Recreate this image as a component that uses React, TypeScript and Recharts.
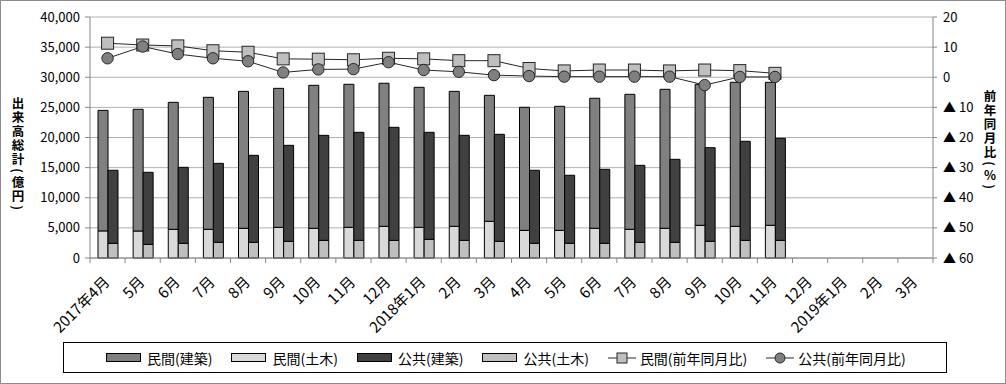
import { ComposedChart, Bar, Line, XAxis, YAxis, CartesianGrid } from 'recharts';

// 月ラベル（2017年4月〜2019年3月）
const months = [
  '2017年4月', '5月', '6月', '7月', '8月', '9月', '10月', '11月', '12月',
  '2018年1月', '2月', '3月', '4月', '5月', '6月', '7月', '8月', '9月', '10月', '11月', '12月',
  '2019年1月', '2月', '3月',
];

// 出来高（億円）
const minKenchiku = [20000, 20200, 21080, 21910, 22730, 23070, 23730, 23740, 23740, 23240, 22400, 20910, 20420, 20590, 21580, 22410, 23070, 23400, 23900, 23730];
const minDoboku = [4500, 4480, 4760, 4760, 4930, 5090, 4930, 5090, 5260, 5090, 5260, 6090, 4590, 4590, 4930, 4760, 4930, 5430, 5260, 5430];
const pubKenchiku = [12120, 11950, 12610, 13110, 14440, 15930, 17430, 17930, 18760, 17760, 17430, 17760, 12120, 11290, 12280, 12780, 13780, 15540, 16440, 16940];
const pubDoboku = [2440, 2270, 2440, 2600, 2600, 2770, 2930, 2930, 2930, 3100, 2930, 2770, 2440, 2440, 2440, 2600, 2600, 2770, 2930, 2930];

// 前年同月比（%）
const minYoY = [11.3, 10.7, 10.4, 8.8, 8.3, 6.1, 6.0, 5.8, 6.3, 6.1, 5.5, 5.5, 2.9, 2.1, 2.4, 2.4, 2.1, 2.4, 2.2, 1.3];
const pubYoY = [6.3, 10.2, 7.7, 6.3, 5.3, 1.6, 2.6, 2.7, 5.0, 2.4, 1.8, 0.7, 0.4, 0.2, 0.2, 0.2, 0.2, -2.6, 0.1, 0.1];

const leftTicks = [0, 5000, 10000, 15000, 20000, 25000, 30000, 35000, 40000];
const rightTicks = [-60, -50, -40, -30, -20, -10, 0, 10, 20];

const FONT = '"Noto Sans CJK JP", "Noto Sans", sans-serif';
const W = 1006;
const H = 384;
const PLOT_LEFT = 90;
const PLOT_RIGHT = 933;
const BAND = (PLOT_RIGHT - PLOT_LEFT) / months.length;

const C_MIN_K = '#808080';
const C_MIN_D = '#d9d9d9';
const C_PUB_K = '#404040';
const C_PUB_D = '#bfbfbf';
const AXIS = '#868686';

const data = months.map((m, i) => ({
  label: m,
  minKenchiku: minKenchiku[i] ?? null,
  minDoboku: minDoboku[i] ?? null,
  pubKenchiku: pubKenchiku[i] ?? null,
  pubDoboku: pubDoboku[i] ?? null,
  minYoY: minYoY[i] ?? null,
  pubYoY: pubYoY[i] ?? null,
}));

function MonthTick(props: any) {
  const { x, y, payload, index } = props;
  const h = BAND / 2;
  const tx = x + 3;
  const ty = y + 25;
  return (
    <g>
      <line x1={x - h} x2={x - h} y1={y} y2={y + 5} stroke={AXIS} />
      {index === months.length - 1 && <line x1={x + h} x2={x + h} y1={y} y2={y + 5} stroke={AXIS} />}
      <text x={tx} y={ty} textAnchor="end" transform={`rotate(-45 ${tx} ${ty})`} fontSize={15} fontFamily={FONT} fill="#000">
        {payload.value}
      </text>
    </g>
  );
}

function SquareDot(props: any) {
  const { cx, cy, index } = props;
  if (cx == null || cy == null) return <g key={`s${index}`} />;
  return <rect key={`s${index}`} x={cx - 6} y={cy - 6} width={12} height={12} fill={C_PUB_D} stroke="#262626" strokeWidth={1} />;
}

function CircleDot(props: any) {
  const { cx, cy, index } = props;
  if (cx == null || cy == null) return <g key={`c${index}`} />;
  return <circle key={`c${index}`} cx={cx} cy={cy} r={5.7} fill={C_MIN_K} stroke="#262626" strokeWidth={1} />;
}

const legendItems = [
  { name: '民間(建築)', type: 'bar', color: C_MIN_K },
  { name: '民間(土木)', type: 'bar', color: C_MIN_D },
  { name: '公共(建築)', type: 'bar', color: C_PUB_K },
  { name: '公共(土木)', type: 'bar', color: C_PUB_D },
  { name: '民間(前年同月比)', type: 'square', color: C_PUB_D },
  { name: '公共(前年同月比)', type: 'circle', color: C_MIN_K },
];

function LegendBox() {
  return (
    <div
      style={{
        position: 'absolute', left: 63, top: 342, width: 884, height: 31, boxSizing: 'border-box',
        border: '1px solid #000', display: 'flex', alignItems: 'center', paddingLeft: 42,
        fontFamily: FONT, fontSize: 14, color: '#000', background: '#fff',
      }}
    >
      {legendItems.map((it) => (
        <div key={it.name} style={{ display: 'flex', alignItems: 'center', marginRight: 19 }}>
          {it.type === 'bar' ? (
            <div style={{ width: 35, height: 9, boxSizing: 'border-box', background: it.color, border: '1px solid #000', marginRight: 6 }} />
          ) : (
            <svg width={28} height={12} style={{ marginRight: 4 }}>
              <line x1={0} x2={28} y1={6} y2={6} stroke="#262626" />
              {it.type === 'square' ? (
                <rect x={9} y={1} width={10} height={10} fill={it.color} stroke="#262626" />
              ) : (
                <circle cx={14} cy={6} r={5} fill={it.color} stroke="#262626" />
              )}
            </svg>
          )}
          <span>{it.name}</span>
        </div>
      ))}
    </div>
  );
}

// 縦書きの軸タイトル（1文字ずつ縦に並べ、括弧は90度回転）
function VerticalTitle({ text, left, top }: { text: string; left: number; top: number }) {
  return (
    <div
      style={{
        position: 'absolute', left, top, width: 16, display: 'flex', flexDirection: 'column', alignItems: 'center',
        fontFamily: FONT, fontWeight: 'bold', fontSize: 12.5, color: '#000',
      }}
    >
      {Array.from(text).map((ch, i) =>
        ch === '(' || ch === ')' ? (
          <span key={i} style={{ display: 'block', height: 9, lineHeight: '9px', transform: 'rotate(90deg)' }}>{ch}</span>
        ) : (
          <span key={i} style={{ display: 'block', height: 14, lineHeight: '14px' }}>{ch}</span>
        ),
      )}
    </div>
  );
}

export default function App() {
  return (
    <div style={{ position: 'absolute', left: 0, top: 0, width: W, height: H, background: '#fff', fontFamily: FONT }}>
      <ComposedChart width={W} height={H} data={data} barGap={0} margin={{ top: 17, right: 0, bottom: 0, left: 0 }}>
        <CartesianGrid yAxisId="left" vertical={false} stroke="#b0b0b0" />
        <XAxis
          dataKey="label"
          interval={0}
          height={126}
          tickLine={false}
          tickSize={0}
          tickMargin={0}
          axisLine={{ stroke: AXIS }}
          tick={<MonthTick />}
        />
        <YAxis
          yAxisId="left"
          width={90}
          domain={[0, 40000]}
          ticks={leftTicks}
          interval={0}
          tickSize={5}
          tickMargin={5}
          tickLine={{ stroke: AXIS }}
          axisLine={{ stroke: AXIS }}
          tickFormatter={(v: number) => v.toLocaleString('en-US')}
          tick={{ fontSize: 13, fill: '#000', fontFamily: FONT }}
        />
        <YAxis
          yAxisId="right"
          orientation="right"
          width={73}
          domain={[-60, 20]}
          ticks={rightTicks}
          interval={0}
          tickSize={4}
          tickMargin={6}
          tickLine={{ stroke: AXIS }}
          axisLine={{ stroke: AXIS }}
          tickFormatter={(v: number) => (v < 0 ? `▲ ${Math.abs(v)}` : `${v}`)}
          tick={{ fontSize: 13, fill: '#000', fontFamily: FONT, textAnchor: 'start' }}
        />
        <Bar yAxisId="left" dataKey="minDoboku" stackId="min" barSize={10} fill={C_MIN_D} stroke="#000" strokeWidth={1} isAnimationActive={false} />
        <Bar yAxisId="left" dataKey="minKenchiku" stackId="min" barSize={10} fill={C_MIN_K} stroke="#000" strokeWidth={1} isAnimationActive={false} />
        <Bar yAxisId="left" dataKey="pubDoboku" stackId="pub" barSize={10} fill={C_PUB_D} stroke="#000" strokeWidth={1} isAnimationActive={false} />
        <Bar yAxisId="left" dataKey="pubKenchiku" stackId="pub" barSize={10} fill={C_PUB_K} stroke="#000" strokeWidth={1} isAnimationActive={false} />
        <Line yAxisId="right" dataKey="minYoY" stroke="#262626" strokeWidth={1} dot={SquareDot} activeDot={false} isAnimationActive={false} />
        <Line yAxisId="right" dataKey="pubYoY" stroke="#262626" strokeWidth={1} dot={CircleDot} activeDot={false} isAnimationActive={false} />
      </ComposedChart>
      <VerticalTitle text="出来高総計(億円)" left={10} top={96} />
      <VerticalTitle text="前年同月比(%)" left={982} top={89} />
      <LegendBox />
      <div style={{ position: 'absolute', left: 0, top: 0, width: W, height: H, boxSizing: 'border-box', border: '1px solid #8c8c8c', pointerEvents: 'none' }} />
    </div>
  );
}
